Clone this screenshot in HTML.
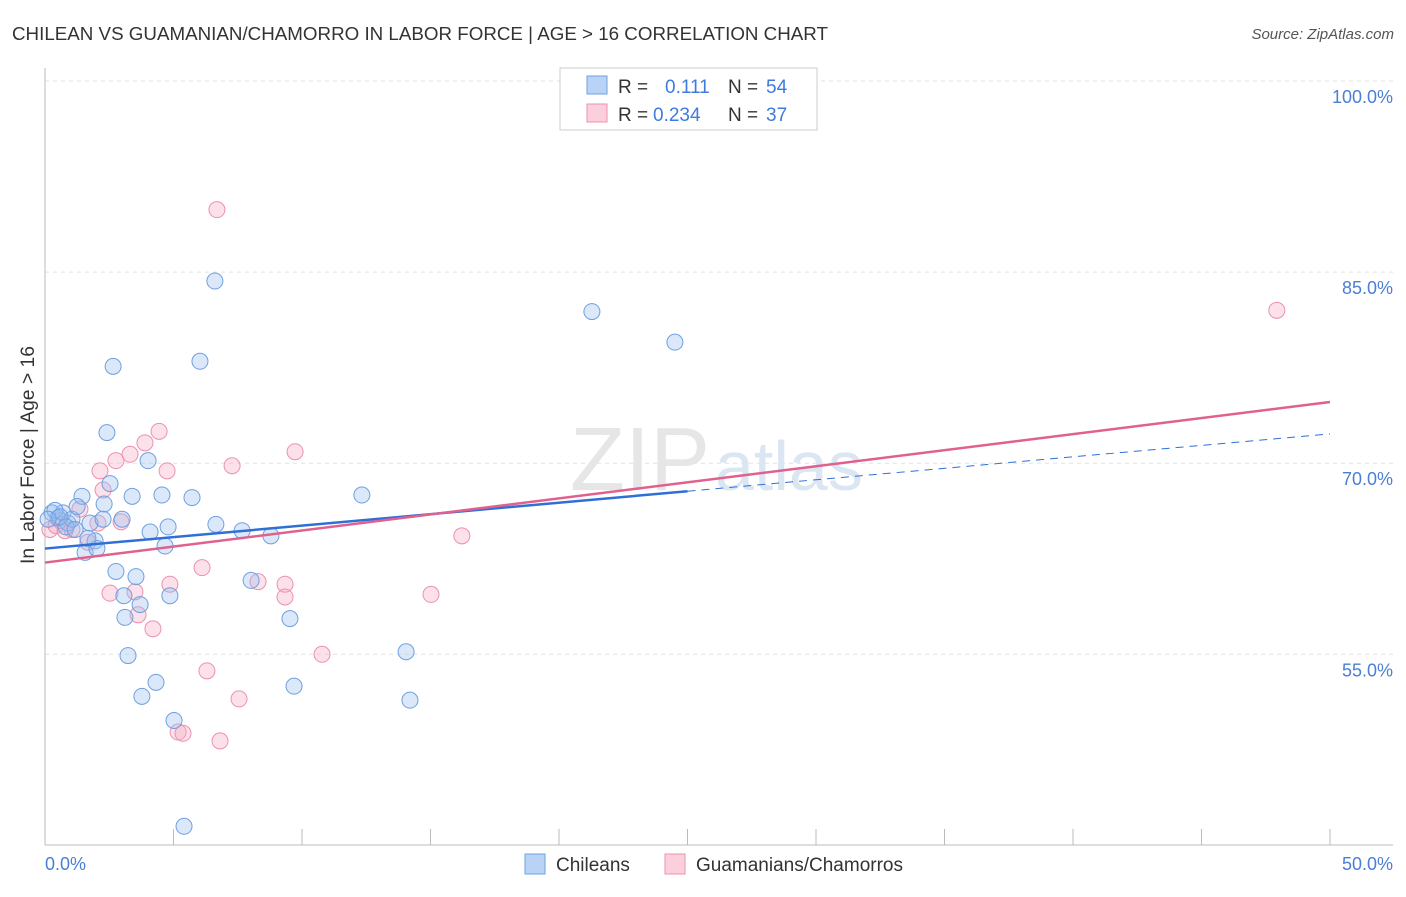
<!DOCTYPE html>
<html><head><meta charset="utf-8"><style>
body{margin:0;background:#fff;font-family:"Liberation Sans",sans-serif;}
svg text{font-family:"Liberation Sans",sans-serif;}
</style></head><body>
<svg id="chart" width="1406" height="892">
<text x="12" y="40" font-size="18" fill="#333" textLength="816" lengthAdjust="spacingAndGlyphs">CHILEAN VS GUAMANIAN/CHAMORRO IN LABOR FORCE | AGE &gt; 16 CORRELATION CHART</text>
<text x="1394" y="39" font-size="15" fill="#555" text-anchor="end" font-style="italic">Source: ZipAtlas.com</text>
<g id="grid"></g>
<text x="710" y="490" font-size="90" fill="#e6e6e6" text-anchor="end" font-family="Liberation Serif">ZIP</text>
<text x="715" y="490" font-size="70" fill="#dbe6f3">atlas</text>
<g id="pts"></g>
<g id="lines"></g>
<text transform="translate(34,455) rotate(-90)" font-size="19" fill="#333" text-anchor="middle" textLength="218" lengthAdjust="spacingAndGlyphs">In Labor Force | Age &gt; 16</text>
<text x="45" y="870" font-size="18" fill="#4a7fd4">0.0%</text>
<text x="1393" y="870" font-size="18" fill="#4a7fd4" text-anchor="end">50.0%</text>
<g>
<rect x="560" y="68" width="257" height="62" fill="#fff" stroke="#ccc"/>
<rect x="587" y="76" width="20" height="18" fill="#b8d3f5" stroke="#6fa0e0"/>
<rect x="587" y="104" width="20" height="18" fill="#fbcfdc" stroke="#ec91ae"/>
<text x="618" y="93" font-size="19" fill="#333">R = </text><text x="665" y="93" font-size="19" fill="#3d7be0">0.111</text>
<text x="728" y="93" font-size="19" fill="#333">N = </text><text x="766" y="93" font-size="19" fill="#3d7be0">54</text>
<text x="618" y="121" font-size="19" fill="#333">R = </text><text x="653" y="121" font-size="19" fill="#3d7be0">0.234</text>
<text x="728" y="121" font-size="19" fill="#333">N = </text><text x="766" y="121" font-size="19" fill="#3d7be0">37</text>
</g>
<g>
<rect x="525" y="854" width="20" height="20" fill="#b8d3f5" stroke="#6fa0e0"/>
<text x="556" y="871" font-size="19" fill="#333">Chileans</text>
<rect x="665" y="854" width="20" height="20" fill="#fbcfdc" stroke="#ec91ae"/>
<text x="696" y="871" font-size="19" fill="#333">Guamanians/Chamorros</text>
</g>
</svg>
<script>
const yTicks=[100,85,70,55];
const xTicks=[0,5,10,15,20,25,30,35,40,45,50];
const blueX=[0.27,0.51,0.7,0.89,1.05,0.39,1.44,1.25,1.75,2.3,2.53,1.56,1.95,2.02,2.41,2.65,2.76,3,3.07,3.11,3.23,3.39,3.54,3.7,3.77,4.01,4.09,4.32,4.55,4.67,4.79,4.86,5.02,5.41,5.72,6.03,6.61,6.65,7.67,8.02,8.79,9.53,9.69,12.33,14.05,14.2,21.28,24.51,2.26,0.58,0.12,0.82,1.17,1.67];
const blueY=[66.1,65.7,66.1,65.3,65.6,66.3,67.4,66.6,65.3,66.8,68.4,63.0,63.9,63.3,72.4,77.6,61.5,65.6,59.6,57.9,54.9,67.4,61.1,58.9,51.7,70.2,64.6,52.8,67.5,63.5,65.0,59.6,49.8,41.5,67.3,78.0,84.3,65.2,64.7,60.8,64.3,57.8,52.5,67.5,55.2,51.4,81.9,79.5,65.6,65.8,65.6,65.0,64.8,64.1];
const pinkX=[0.19,0.43,0.78,1.05,1.36,1.67,2.06,2.26,2.53,2.76,2.96,3.31,3.5,3.62,3.89,4.2,4.44,4.75,4.86,5.18,5.37,6.11,6.3,6.69,6.81,7.28,7.55,8.29,9.34,9.34,9.73,10.78,15.02,16.22,47.93,2.14,0.58];
const pinkY=[64.8,65.1,64.7,64.8,66.4,63.8,65.3,67.9,59.8,70.2,65.4,70.7,59.9,58.1,71.6,57.0,72.5,69.4,60.5,48.9,48.8,61.8,53.7,89.9,48.2,69.8,51.5,60.7,60.5,59.5,70.9,55.0,59.7,64.3,82.0,69.4,65.5];
const blueLine=[[0,63.3],[25,67.8],[50,72.3]];
const pinkLine=[[0,62.2],[50,74.8]];
const X=v=>45+v/50*1285, Y=v=>81+(100-v)*12.74;
const NS='http://www.w3.org/2000/svg';
function mk(t,a,p){const e=document.createElementNS(NS,t);for(const k in a)e.setAttribute(k,a[k]);p.appendChild(e);return e;}
const g=document.getElementById('grid');
yTicks.forEach(v=>{const l=mk('line',{x1:45,x2:1393,y1:Y(v),y2:Y(v),stroke:'#e2e2e2','stroke-dasharray':'4,4'},g);


const t=mk('text',{x:1393,y:Y(v)+22,'font-size':18,fill:'#4a7fd4','text-anchor':'end'},g);t.textContent=v.toFixed(1)+'%';

});
const ax=mk('line',{x1:45,x2:45,y1:68,y2:845,stroke:'#bbb'},g);


const bx=mk('line',{x1:45,x2:1393,y1:845,y2:845,stroke:'#bbb'},g);


xTicks.forEach(v=>{const t=mk('line',{x1:X(v),x2:X(v),y1:829,y2:845,stroke:'#bbb'},g);

});
const p=document.getElementById('pts');
pinkX.forEach((x,i)=>{const c=mk('circle',{cx:X(x),cy:Y(pinkY[i]),r:8,fill:'rgba(247,170,195,0.35)',stroke:'#ec91ae','stroke-width':1},p);

});
blueX.forEach((x,i)=>{const c=mk('circle',{cx:X(x),cy:Y(blueY[i]),r:8,fill:'rgba(150,190,240,0.35)',stroke:'#6fa0e0','stroke-width':1},p);

});
const L=document.getElementById('lines');
const b1=mk('line',{x1:X(blueLine[0][0]),y1:Y(blueLine[0][1]),x2:X(blueLine[1][0]),y2:Y(blueLine[1][1]),stroke:'#2f6fd6','stroke-width':2.5},L);


const b2=mk('line',{x1:X(blueLine[1][0]),y1:Y(blueLine[1][1]),x2:X(blueLine[2][0]),y2:Y(blueLine[2][1]),stroke:'#2f6fd6','stroke-width':1,'stroke-dasharray':'8,6'},L);


const p1=mk('line',{x1:X(pinkLine[0][0]),y1:Y(pinkLine[0][1]),x2:X(pinkLine[1][0]),y2:Y(pinkLine[1][1]),stroke:'#e0608e','stroke-width':2.5},L);


</script>
</body></html>
